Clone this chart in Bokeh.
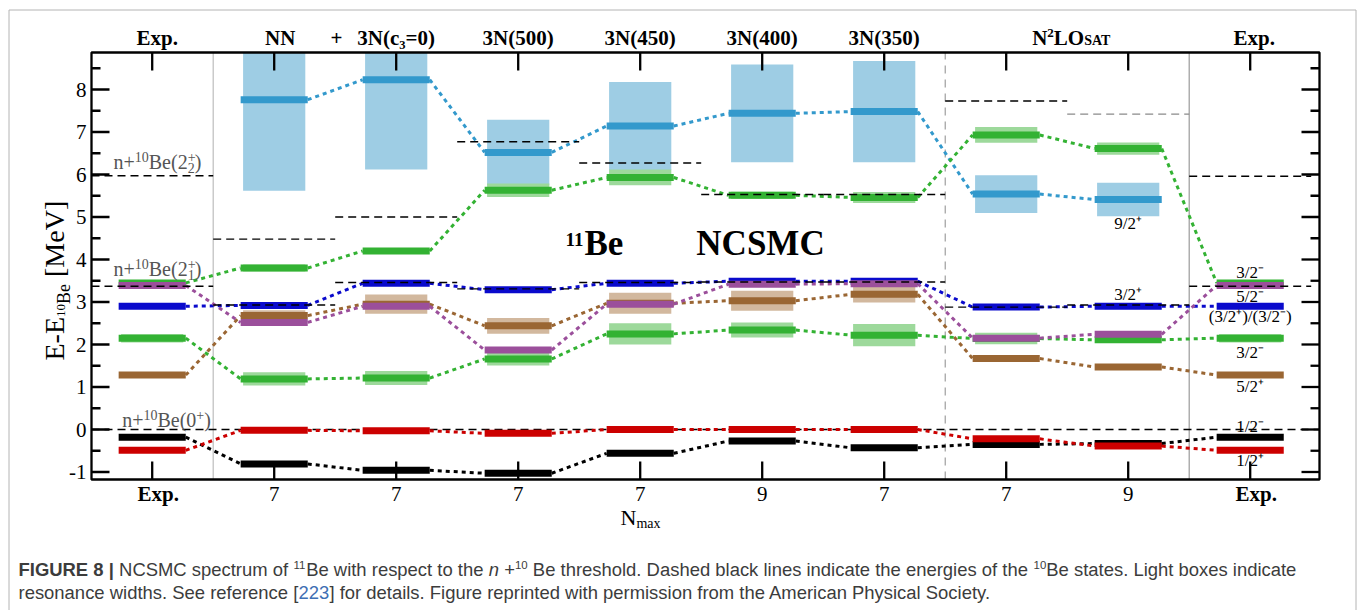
import numpy as np
from math import pi
from bokeh.plotting import figure
from bokeh.models import Range1d, Label
from bokeh.embed import file_html
from bokeh.resources import INLINE
from bokeh.core.properties import value

# ---------------- data ----------------
columns = ["Exp.", "NN", "3N(c₃=0)", "3N(500)", "3N(450)", "3N(400)", "3N(350)", "N²LO_SAT", "N²LO_SAT", "Exp."]
top_labels = ["Exp.", "NN", "3N(c₃=0)", "3N(500)", "3N(450)", "3N(400)", "3N(350)", "", "", "Exp."]
nmax_labels = ["Exp.", "7", "7", "7", "7", "9", "7", "7", "9", "Exp."]
y_ticks = [-1, 0, 1, 2, 3, 4, 5, 6, 7, 8]

# level energies (MeV, relative to n+10Be threshold) and resonance widths
e_92p = [None, 7.76, 8.23, 6.52, 7.14, 7.44, 7.48, 5.54, 5.41, None]
w_92p = [0, 4.28, 4.22, 1.54, 2.07, 2.30, 2.38, 0.89, 0.79, 0]
e_32m2 = [3.45, 3.80, 4.20, 5.63, 5.93, 5.51, 5.46, 6.93, 6.61, 3.45]
w_32m2 = [0, 0.17, 0, 0.32, 0.37, 0.17, 0.26, 0.37, 0.29, 0]
e_32p = [2.90, 2.92, 3.44, 3.29, 3.44, 3.49, 3.49, 2.88, 2.90, 2.90]
e_52p = [1.28, 2.68, 2.95, 2.44, 2.97, 3.03, 3.18, 1.67, 1.47, 1.28]
w_52p = [0, 0.25, 0.45, 0.37, 0.49, 0.47, 0.38, 0, 0, 0]
e_32m1 = [2.15, 1.19, 1.21, 1.66, 2.25, 2.34, 2.22, 2.14, 2.11, 2.15]
w_32m1 = [0.2, 0.31, 0.33, 0.31, 0.5, 0.35, 0.52, 0.27, 0, 0.2]
e_52m = [3.39, 2.52, 2.90, 1.87, 2.95, 3.42, 3.43, 2.15, 2.24, 3.39]
e_12m = [-0.18, -0.81, -0.96, -1.03, -0.56, -0.27, -0.43, -0.35, -0.33, -0.18]
e_12p = [-0.49, -0.02, -0.03, -0.09, 0.00, 0.00, 0.00, -0.22, -0.39, -0.49]

# 10Be thresholds per column
thr_22 = [5.97, 4.48, 5.00, 6.77, 6.27, 5.53, 5.53, 7.73, 7.42, 5.96]
thr_21 = [3.37, 2.93, 3.46, 3.31, 3.46, 3.47, 3.47, 2.88, 2.93, 3.37]
thr_0 = 0.0

exp_labels = ["3/2⁻", "5/2⁻", "(3/2⁺)/(3/2⁻)", "3/2⁻", "5/2⁺", "1/2⁻", "1/2⁺"]

# ---------------- styling ----------------
C_LB, C_LB_L = "#3399cc", "#9ecde4"
C_G, C_G_L = "#33b233", "#9dd99b"
C_B = "#0a0acc"
C_BR, C_BR_L = "#9a6633", "#d2b89e"
C_P = "#9b4f9b"
C_R = "#cc0000"
C_K = "#000000"
SERIF = "Liberation Serif"
SANS = "Liberation Sans"
MID = 0.34   # baseline sits this many em below a "middle" anchor

W, H = 1358, 610

def X(px):  # page pixel -> data x
    return (px - 151.7) / 122.0

def Y(py):  # page pixel -> data y
    return (429.0 - py) / 42.5

X0, X1 = X(91), X(1319)     # axis box
Y0, Y1 = Y(479), Y(52)
BAR_W, BOX_W = 0.55, 0.51

p = figure(width=W, height=H, x_range=Range1d(X(0), X(W)), y_range=Range1d(Y(H), Y(0)),
           output_backend="svg", toolbar_location=None,
           x_axis_location=None, y_axis_location=None, min_border=0)
p.min_border_left = p.min_border_right = p.min_border_top = p.min_border_bottom = 0
p.title.visible = False
p.xgrid.visible = False
p.ygrid.visible = False
p.outline_line_color = None
p.background_fill_color = "white"
p.border_fill_color = "white"

xs = np.arange(len(columns))

# outer border of the figure panel (left, top, right)
p.segment(x0=[X(8.5), X(8.5), X(1355.5)], y0=[Y(9.5), Y(9.5), Y(9.5)],
          x1=[X(8.5), X(1355.5), X(1355.5)], y1=[Y(H + 5), Y(9.5), Y(H + 5)],
          line_color="#b4b4b4", line_width=1)

# separators
p.segment(x0=[0.5, 8.5], y0=[Y0, Y0], x1=[0.5, 8.5], y1=[Y1, Y1], line_color=["#bdbdbd", "#9a9a9a"], line_width=1.2)
p.segment(x0=[6.5], y0=[Y0], x1=[6.5], y1=[Y1], line_color="#8a8a8a", line_width=1, line_dash="8 6")

# zero threshold (behind bars)
p.segment(x0=[X0], y0=[thr_0], x1=[X1], y1=[thr_0], line_color="black", line_width=1.4, line_dash="8 5")

def valid(e):
    return [i for i, v in enumerate(e) if v is not None]

# resonance width boxes (clipped to the axis box)
for e, w, col in [(e_92p, w_92p, C_LB_L), (e_32m2, w_32m2, C_G_L), (e_52p, w_52p, C_BR_L), (e_32m1, w_32m1, C_G_L)]:
    idx = [i for i in valid(e) if w[i] > 0]
    p.quad(left=[xs[i] - BOX_W / 2 for i in idx], right=[xs[i] + BOX_W / 2 for i in idx],
           bottom=[max(Y0, e[i] - w[i] / 2) for i in idx], top=[min(Y1, e[i] + w[i] / 2) for i in idx],
           fill_color=col, line_color=None)

series = [(e_92p, C_LB), (e_32m2, C_G), (e_32p, C_B), (e_52p, C_BR), (e_32m1, C_G), (e_52m, C_P), (e_12m, C_K), (e_12p, C_R)]

# dotted connectors
for e, col in series:
    idx = valid(e)
    a = [i for i in idx if i + 1 in idx]
    p.segment(x0=[xs[i] + BAR_W / 2 for i in a], y0=[e[i] for i in a],
              x1=[xs[i + 1] - BAR_W / 2 for i in a], y1=[e[i + 1] for i in a],
              line_color=col, line_width=3, line_dash="4 4")

# level bars
for e, col in series:
    idx = valid(e)
    p.rect(x=[xs[i] for i in idx], y=[e[i] for i in idx], width=BAR_W, height=7, height_units="screen",
           fill_color=col, line_color=None)

# 10Be 2+ thresholds (on top)
lx0 = [max(X0, i - 0.5) for i in xs]
lx1 = [min(X1, i + 0.5) for i in xs]
thr_cols = ["black"] * 10
thr_cols[8] = "#8a8a8a"
p.segment(x0=lx0, y0=thr_22, x1=lx1, y1=thr_22, line_color=thr_cols, line_width=1.4, line_dash="8 5")
p.segment(x0=lx0, y0=thr_21, x1=lx1, y1=thr_21, line_color="black", line_width=1.4, line_dash="8 5")

# ---------------- axes ----------------
AXW = 2.3
p.quad(left=[X0], right=[X1], bottom=[Y0], top=[Y1], fill_color=None, line_color="black", line_width=AXW)
y_minor = [v + 0.5 for v in range(-2, 9) if Y0 < v + 0.5 < Y1]
p.ray(x=[X0] * len(y_ticks), y=y_ticks, length=18, length_units="screen", angle=0, line_color="black", line_width=AXW)
p.ray(x=[X0] * len(y_minor), y=y_minor, length=9, length_units="screen", angle=0, line_color="black", line_width=AXW)
p.ray(x=[X1] * len(y_ticks), y=y_ticks, length=18, length_units="screen", angle=pi, line_color="black", line_width=AXW)
p.ray(x=[X1] * len(y_minor), y=y_minor, length=9, length_units="screen", angle=pi, line_color="black", line_width=AXW)
p.ray(x=xs, y=[Y1] * len(xs), length=18, length_units="screen", angle=-pi / 2, line_color="black", line_width=AXW)
p.ray(x=xs, y=[Y0] * len(xs), length=18, length_units="screen", angle=pi / 2, line_color="black", line_width=AXW)

# y tick labels
p.text(x=[X0] * len(y_ticks), y=y_ticks, text=[str(v) for v in y_ticks], x_offset=-5,
       text_align="right", text_baseline="middle", text_font=value(SERIF), text_font_size=value("21px"),
       text_color="black")
# top labels (baseline at page y 45)
nudge = {0: 5, 1: 6, 9: 4}
ti = [i for i, t in enumerate(top_labels) if t]
p.text(x=[xs[i] + nudge.get(i, 0) / 122.0 for i in ti], y=[Y(45 - MID * 21)] * len(ti), text=[top_labels[i] for i in ti],
       text_align="center", text_baseline="middle", text_font=value(SERIF), text_font_size=value("21px"),
       text_font_style="bold", text_color="black")
# bottom labels (baseline at page y 501)
bi = [i for i, t in enumerate(nmax_labels) if t != "Exp."]
p.text(x=[xs[i] for i in bi], y=[Y(501 - MID * 21)] * len(bi), text=[nmax_labels[i] for i in bi],
       text_align="center", text_baseline="middle", text_font=value(SERIF), text_font_size=value("21px"),
       text_color="black")
ei = [i for i, t in enumerate(nmax_labels) if t == "Exp."]
p.text(x=[xs[i] + 6 / 122.0 for i in ei], y=[Y(501 - MID * 21)] * len(ei), text=[nmax_labels[i] for i in ei],
       text_align="center", text_baseline="middle", text_font=value(SERIF), text_font_size=value("21px"),
       text_font_style="bold", text_color="black")

# ---------------- rich text helpers ----------------
TIMES_R = {' ': 250, '(': 333, ')': 333, '+': 564, '-': 333, '.': 250, '/': 278, '[': 333, ']': 333,
           'B': 667, 'E': 611, 'M': 889, 'N': 722, 'V': 722, 'a': 444, 'e': 444, 'm': 778, 'n': 500, 'x': 500}
TIMES_B = {' ': 250, '+': 570, 'B': 667, 'e': 444, 'N': 722, 'C': 722, 'S': 556, 'M': 944, 'L': 667,
           'O': 778, 'A': 722, 'T': 667}
ARIAL_R = {' ': 278, '(': 333, ')': 333, '+': 584, ',': 278, '-': 333, '.': 278, '/': 278, '[': 278, ']': 278,
           '|': 260, 'A': 667, 'B': 667, 'C': 722, 'D': 722, 'E': 667, 'F': 611, 'G': 778, 'H': 722, 'I': 278,
           'L': 556, 'M': 833, 'N': 722, 'O': 778, 'P': 667, 'R': 722, 'S': 667, 'T': 611, 'U': 722,
           'a': 556, 'b': 556, 'c': 500, 'd': 556, 'e': 556, 'f': 278, 'g': 556, 'h': 556, 'i': 222,
           'j': 222, 'k': 500, 'l': 222, 'm': 833, 'n': 556, 'o': 556, 'p': 556, 'q': 556, 'r': 333,
           's': 500, 't': 278, 'u': 556, 'v': 500, 'w': 722, 'x': 500, 'y': 500, 'z': 500}
ARIAL_B = {' ': 278, '|': 280, 'F': 611, 'I': 278, 'G': 778, 'U': 722, 'R': 722, 'E': 667}

def tw(text, size, font, bold):
    if font == SANS:
        tbl = ARIAL_B if bold else ARIAL_R
        dflt = 556
    else:
        tbl = TIMES_B if bold else TIMES_R
        dflt = 500
    return sum(tbl.get(c, dflt) for c in text) * size / 1000.0

def rich(parts, x0, y0, font=SERIF, color="black", angle=0.0):
    """parts: (text, size, rise, style, color, advance). x0,y0: page px of baseline start.
    Leading/trailing blanks are not drawn (SVG collapses them) but are kept in the advance."""
    cur = x0 if angle == 0 else y0
    for text, size, rise, style, col, adv in parts:
        bold = "bold" in style
        lead = tw(text[:len(text) - len(text.lstrip(' '))], size, font, bold)
        body = text.strip(' ')
        up = rise + MID * size
        if body:
            if angle == 0:
                lx, ly = X(cur + lead), Y(y0 - up)
            else:
                lx, ly = X(x0 - up), Y(cur - lead)
            p.add_layout(Label(x=lx, y=ly, text=body, text_font=font, text_font_size=f"{size}px",
                               text_font_style=style, text_color=col or color, text_align="left",
                               text_baseline="middle", angle=angle))
        if adv:
            w = tw(text, size, font, bold)
            cur = cur + w if angle == 0 else cur - w

def lab(x, base_py, text, size, font=SERIF, style="normal", color="black", align="left"):
    p.add_layout(Label(x=x, y=Y(base_py - MID * size), text=text, text_font=font, text_font_size=f"{size}px",
                       text_font_style=style, text_color=color, text_align=align, text_baseline="middle"))

# top extra labels
lab(X(336), 45, "+", 21, style="bold", align="center")
rich([("N", 21, 0, "bold", None, 1), ("2", 13, 8, "bold", None, 1),
      ("LO", 21, 0, "bold", None, 1), ("SAT", 14, 0, "bold", None, 1)], 1031.7, 45)

# threshold names
GR = "#555555"
rich([("n+", 20, 0, "normal", None, 1), ("10", 14, 7, "normal", None, 1), ("Be(2", 20, 0, "normal", None, 1),
      ("+", 14, 7, "normal", None, 0), ("2", 14, -4, "normal", None, 1), (")", 20, 0, "normal", None, 1)],
     113, 168.5, color=GR)
rich([("n+", 20, 0, "normal", None, 1), ("10", 14, 7, "normal", None, 1), ("Be(2", 20, 0, "normal", None, 1),
      ("+", 14, 7, "normal", None, 0), ("1", 14, -4, "normal", None, 1), (")", 20, 0, "normal", None, 1)],
     113, 275, color=GR)
rich([("n+", 20, 0, "normal", None, 1), ("10", 14, 7, "normal", None, 1), ("Be(0", 20, 0, "normal", None, 1),
      ("+", 14, 7, "normal", None, 1), (")", 20, 0, "normal", None, 1)],
     121.7, 426.5, color=GR)

# big labels
rich([("11", 19, 10, "bold", None, 1), ("Be", 35, 0, "bold", None, 1)], 565, 255)
lab(X(760), 255, "NCSMC", 35, style="bold", align="center")

# spin labels
lab(xs[8], 229, "9/2⁺", 17, align="center")
lab(xs[8], 300, "3/2⁺", 17, align="center")
for py, t in zip([278, 301.5, 322, 358, 392, 432, 466], exp_labels):
    lab(xs[9], py, t, 17, align="center")

# axis titles
rich([("E-E", 28, 0, "normal", None, 1), ("10", 13, -1, "normal", None, 1),
      ("Be", 18, -6.5, "normal", None, 1), (" ", 28, 0, "normal", None, 1),
      ("[MeV]", 28, 0, "normal", None, 1)], 63.5, 360, angle=pi / 2)
rich([("N", 22, 0, "normal", None, 1), ("max", 14, -4, "normal", None, 1)], 620, 524)

# caption
CAP = "#3c3c3c"
BLUE = "#3f6fb4"
l1_rest = [("NCSMC spectrum of ", 1.0, 0, "normal", None), ("11", 0.62, 0.38, "normal", None),
           ("Be with respect to the ", 1.0, 0, "normal", None), ("n", 1.0, 0, "italic", None),
           (" +", 1.0, 0, "normal", None), ("10", 0.62, 0.38, "normal", None),
           (" Be threshold. Dashed black lines indicate the energies of the ", 1.0, 0, "normal", None),
           ("10", 0.62, 0.38, "normal", None), ("Be states. Light boxes indicate", 1.0, 0, "normal", None)]
prefix = "FIGURE 8 | "
em1 = tw(prefix, 1, SANS, True) + sum(tw(t, f, SANS, False) for t, f, _, _, _ in l1_rest)
s1 = (1296 - 18) / em1
rich([(prefix, round(s1, 2), 0, "bold", None, 1)] +
     [(t, round(f * s1, 2), r * s1, st, c, 1) for t, f, r, st, c in l1_rest], 18, 575, font=SANS, color=CAP)

l2 = [("resonance widths. See reference [", None), ("223", BLUE),
      ("] for details. Figure reprinted with permission from the American Physical Society.", None)]
rich([(t, round(s1, 2), 0, "normal", c, 1) for t, c in l2], 18, 598, font=SANS, color=CAP)

open("out.html", "w").write(file_html(p, INLINE))
